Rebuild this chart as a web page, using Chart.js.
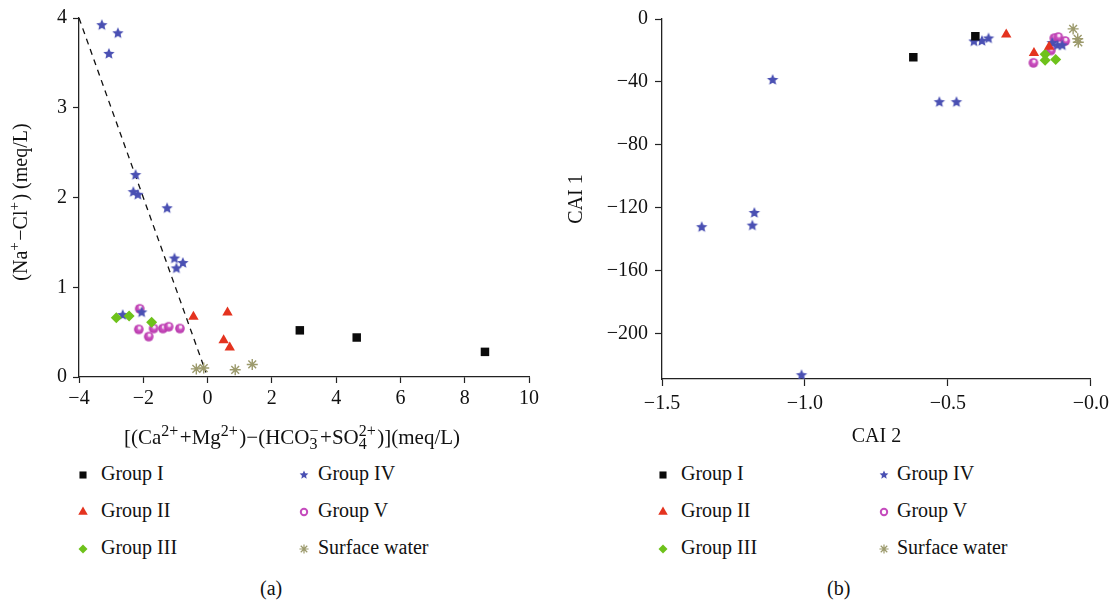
<!DOCTYPE html>
<html>
<head>
<meta charset="utf-8">
<script src="https://cdn.jsdelivr.net/npm/chart.js@4.4.1/dist/chart.umd.min.js"></script>
<style>
  body { margin: 0; background: #fff; width: 1115px; height: 606px; position: relative; overflow: hidden;
         font-family: "Liberation Serif", "Times New Roman", serif; color: #111; }
  canvas.panel { position: absolute; top: 0; }
  #chartA { left: 0; }
  #chartB { left: 560px; }
  .lg-icon { position: absolute; }
  .lg-text, .caption { position: absolute; font-size: 20px; line-height: 24px; white-space: nowrap; }
</style>
</head>
<body>
<canvas id="chartA" class="panel" width="545" height="460"></canvas>
<canvas id="chartB" class="panel" width="555" height="460"></canvas>
<div id="legends"></div>
<div class="caption" style="left:260px; top:576px;">(a)</div>
<div class="caption" style="left:827px; top:576px;">(b)</div>

<script>
// ---- (a) (Na - Cl) vs (Ca + Mg) - (HCO3 + SO4), meq/L
const aGroupI   = [[2.87, 0.52], [4.64, 0.44], [8.63, 0.28]];
const aGroupII  = [[-0.44, 0.67], [0.62, 0.72], [0.50, 0.41], [0.69, 0.33]];
const aGroupIII = [[-2.84, 0.66], [-2.44, 0.68], [-1.74, 0.61]];
const aGroupIV  = [[-3.29, 3.92], [-2.79, 3.83], [-3.07, 3.60], [-2.24, 2.25], [-2.31, 2.06],
                   [-2.17, 2.03], [-1.26, 1.88], [-1.03, 1.32], [-0.77, 1.27], [-0.97, 1.21],
                   [-2.64, 0.69], [-2.05, 0.72]];
const aGroupV   = [[-2.11, 0.76], [-2.14, 0.53], [-1.83, 0.45], [-1.68, 0.54], [-1.39, 0.54],
                   [-1.21, 0.56], [-0.86, 0.54]];
const aSurface  = [[-0.35, 0.09], [-0.12, 0.10], [0.86, 0.08], [1.39, 0.14]];
const aOneToOne = [[-4, 4], [-0.05, 0.05]];
const aXTicks = ['−4', '−2', '0', '2', '4', '6', '8', '10'];
const aYTicks = ['0', '1', '2', '3', '4'];

// ---- (b) chloro-alkaline indices
const bGroupI   = [[-0.621, -24.4], [-0.404, -10.9]];
const bGroupII  = [[-0.296, -9.9], [-0.199, -21.6], [-0.146, -17.6]];
const bGroupIII = [[-0.160, -22.5], [-0.160, -26.3], [-0.123, -25.8]];
const bGroupIV  = [[-1.113, -38.8], [-1.361, -132.4], [-1.177, -123.4], [-1.184, -131.4],
                   [-1.012, -226.6], [-0.530, -52.9], [-0.470, -52.9], [-0.409, -14.3],
                   [-0.381, -14.0], [-0.358, -12.4], [-0.135, -15.3], [-0.117, -16.8], [-0.100, -16.8]];
const bGroupV   = [[-0.201, -27.9], [-0.140, -20.0], [-0.128, -12.2], [-0.114, -11.5], [-0.090, -14.0]];
const bSurface  = [[-0.062, -6.3], [-0.046, -12.6], [-0.044, -14.8]];
const bXTicks = ['−1.5', '−1.0', '−0.5', '−0.0'];
const bYTicks = ['−200', '−160', '−120', '−80', '−40', '0'];

const groupLabels = ['Group I', 'Group II', 'Group III', 'Group IV', 'Group V', 'Surface water'];

const FONT = '"Liberation Serif", "Times New Roman", serif';
Chart.defaults.font.family = FONT;
Chart.defaults.font.size = 20;
Chart.defaults.color = '#111';

// filled five-point star
function starImage(r, color) {
  const c = document.createElement('canvas');
  c.width = c.height = Math.ceil(2 * r + 2);
  const g = c.getContext('2d');
  const m = c.width / 2;
  g.fillStyle = color;
  g.beginPath();
  for (let i = 0; i < 10; i++) {
    const rr = i % 2 ? r * 0.46 : r;
    const a = -Math.PI / 2 + i * Math.PI / 5;
    g.lineTo(m + rr * Math.cos(a), m + rr * Math.sin(a));
  }
  g.closePath();
  g.fill();
  return c;
}

// shaded ball with a white highlight
function ballImage(r) {
  const c = document.createElement('canvas');
  c.width = c.height = Math.ceil(2 * r + 2);
  const g = c.getContext('2d');
  const m = c.width / 2;
  const grad = g.createRadialGradient(m + r * 0.2, m - r * 0.45, r * 0.05, m, m, r);
  grad.addColorStop(0, '#ffffff');
  grad.addColorStop(0.28, '#f2c8ec');
  grad.addColorStop(0.42, '#cf55c4');
  grad.addColorStop(1, '#b537a9');
  g.fillStyle = grad;
  g.beginPath();
  g.arc(m, m, r, 0, Math.PI * 2);
  g.fill();
  return c;
}

const styles = [
  { color: '#0b0b0b', pointStyle: 'rect', radius: 6, legend: { pointStyle: 'rect', radius: 5 } },
  { color: '#e4331f', pointStyle: 'triangle', radius: 6, legend: { pointStyle: 'triangle', radius: 5.5 } },
  { color: '#6ec21b', pointStyle: 'rectRot', radius: 5.5, legend: { pointStyle: 'rectRot', radius: 4.5 } },
  { color: '#4a50b3', pointStyle: starImage(6, '#4a50b3'), radius: 6, legend: { image: starImage(4.6, '#4a50b3') } },
  { color: '#c54bbd', pointStyle: ballImage(4.8), radius: 5, legend: { pointStyle: 'circle', radius: 3.2, line: 2, fill: '#fff' } },
  { color: '#9c9a6c', pointStyle: 'star', radius: 5.5, border: 1.4, legend: { pointStyle: 'star', radius: 4.6, line: 1.2 } },
];

const toPoints = arr => arr.map(([x, y]) => ({ x, y }));

function groupSets(groups) {
  return groups.map((arr, i) => ({
    label: groupLabels[i],
    data: toPoints(arr),
    pointStyle: styles[i].pointStyle,
    pointRadius: styles[i].radius,
    backgroundColor: styles[i].color,
    borderColor: styles[i].color,
    borderWidth: styles[i].border || 0,
  }));
}

function axis(min, max, step, labels, pad, tick) {
  return {
    type: 'linear', min, max,
    ticks: { stepSize: step, includeBounds: false, padding: pad, maxRotation: 0, autoSkip: false,
             color: '#111', callback: (v, i) => labels[i] },
    grid: { drawOnChartArea: false, drawTicks: true, tickLength: tick, tickColor: '#222', tickWidth: 1.2 },
    border: { color: '#222', width: 1.3 },
  };
}

// text runs with super/subscripts; stacked runs put both scripts in one column
function drawRich(ctx, runs, cx, baseline, big, small) {
  const bigFont = big + 'px ' + FONT, smallFont = small + 'px ' + FONT;
  const gap = 1.5;
  const widthOf = r => {
    if (r.stack) {
      ctx.font = smallFont;
      return Math.max(ctx.measureText(r.sub).width, ctx.measureText(r.sup).width) + gap;
    }
    ctx.font = r.s ? smallFont : bigFont;
    return ctx.measureText(r.t).width + (r.s ? gap : 0);
  };
  const total = runs.reduce((w, r) => w + widthOf(r), 0);
  let x = cx - total / 2;
  ctx.textBaseline = 'alphabetic';
  ctx.textAlign = 'left';
  ctx.fillStyle = '#111';
  for (const r of runs) {
    const w = widthOf(r);
    if (r.stack) {
      ctx.font = smallFont;
      ctx.fillText(r.sup, x, baseline - 8);
      ctx.fillText(r.sub, x, baseline + 5);
    } else {
      ctx.font = r.s ? smallFont : bigFont;
      ctx.fillText(r.t, x, baseline + (r.s === 'sup' ? -8 : r.s === 'sub' ? 5 : 0));
    }
    x += w;
  }
}

const aTitles = {
  id: 'aTitles',
  afterDraw(chart) {
    const ctx = chart.ctx;
    ctx.save();
    drawRich(ctx, [
      { t: '[(Ca' }, { t: '2+', s: 'sup' }, { t: '+Mg' }, { t: '2+', s: 'sup' }, { t: ')−(HCO' },
      { stack: true, sub: '3', sup: '−' }, { t: '+SO' }, { stack: true, sub: '4', sup: '2+' }, { t: ')](meq/L)' },
    ], 292, 444, 21, 16);
    ctx.translate(20, 202);
    ctx.rotate(-Math.PI / 2);
    drawRich(ctx, [
      { t: '(Na' }, { t: '+', s: 'sup' }, { t: '−Cl' }, { t: '+', s: 'sup' }, { t: ') (meq/L)' },
    ], 0, 7, 20, 15);
    ctx.restore();
  }
};

new Chart(document.getElementById('chartA'), {
  type: 'scatter',
  data: {
    datasets: [
      ...groupSets([aGroupI, aGroupII, aGroupIII, aGroupIV, aGroupV, aSurface]),
      { type: 'line', data: toPoints(aOneToOne), borderColor: '#111', borderWidth: 1.3,
        borderDash: [6, 5], pointRadius: 0, fill: false },
    ]
  },
  options: {
    responsive: false, animation: false, events: [],
    layout: { padding: { top: 15, right: 16, left: 0, bottom: 0 } },
    plugins: { legend: { display: false }, tooltip: { enabled: false } },
    scales: {
      x: { ...axis(-4, 10, 2, aXTicks, 4, 6), afterFit: s => { s.height = 83; } },
      y: { ...axis(0, 4, 1, aYTicks, 6, 6), afterFit: s => { s.width = 79; } },
    }
  },
  plugins: [aTitles]
});

new Chart(document.getElementById('chartB'), {
  type: 'scatter',
  data: { datasets: groupSets([bGroupI, bGroupII, bGroupIII, bGroupIV, bGroupV, bSurface]) },
  options: {
    responsive: false, animation: false, events: [],
    layout: { padding: { top: 15, right: 23, left: 0, bottom: 0 } },
    plugins: { legend: { display: false }, tooltip: { enabled: false } },
    scales: {
      x: { ...axis(-1.5, 0, 0.5, bXTicks, 6, 7),
           title: { display: true, text: 'CAI 2', color: '#111', padding: { top: 4, bottom: 11 } },
           afterFit: s => { s.height = 81; } },
      y: { ...axis(-229, 0, 40, bYTicks, 7, 7),
           title: { display: true, text: 'CAI 1', color: '#111', padding: { top: 5, bottom: 4 } },
           afterFit: s => { s.width = 102; } },
    }
  }
});

// two-column legends under each panel
const legendRows = [473, 510, 547];
const legendCols = [
  { icon: [83, 304], text: [101, 318] },
  { icon: [663, 884], text: [681, 897] },
];

function legendIcon(st) {
  const c = document.createElement('canvas');
  c.width = c.height = 20;
  c.className = 'lg-icon';
  const g = c.getContext('2d');
  const lg = st.legend;
  if (lg.image) {
    g.drawImage(lg.image, 10 - lg.image.width / 2, 10 - lg.image.height / 2);
  } else {
    g.fillStyle = lg.fill || st.color;
    g.strokeStyle = st.color;
    g.lineWidth = lg.line || 1;
    Chart.helpers.drawPoint(g, { pointStyle: lg.pointStyle, radius: lg.radius, rotation: 0,
                                 borderWidth: lg.line || 0 }, 10, 10);
  }
  return c;
}

const holder = document.getElementById('legends');
legendCols.forEach(cols => {
  groupLabels.forEach((label, i) => {
    const col = Math.floor(i / 3), row = i % 3;
    const icon = legendIcon(styles[i]);
    icon.style.left = (cols.icon[col] - 10) + 'px';
    icon.style.top = (legendRows[row] + 2 - 10) + 'px';
    holder.appendChild(icon);
    const t = document.createElement('div');
    t.className = 'lg-text';
    t.textContent = label;
    t.style.left = cols.text[col] + 'px';
    t.style.top = (legendRows[row] - 12) + 'px';
    holder.appendChild(t);
  });
});
</script>
</body>
</html>
